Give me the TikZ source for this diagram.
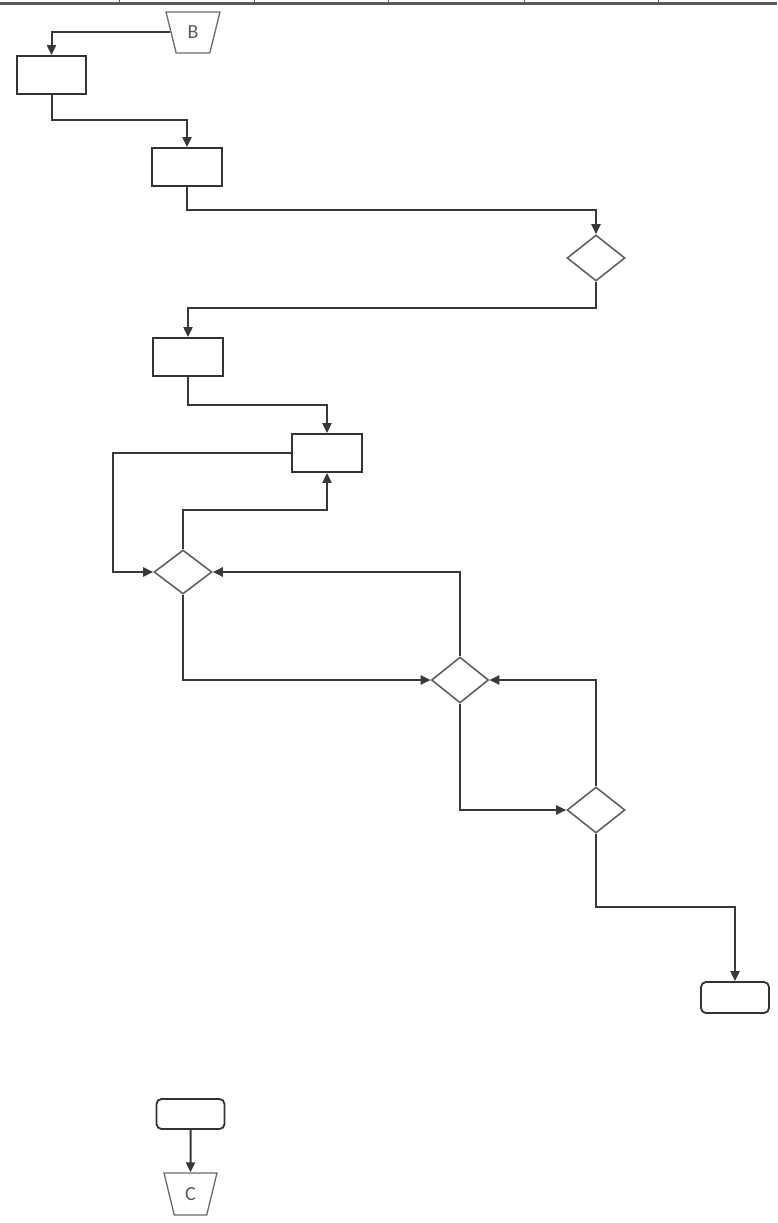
\documentclass[tikz,border=0pt]{standalone}
\usepackage{fontspec}
\setmainfont{Carlito}
\usetikzlibrary{shapes.geometric,arrows.meta,calc}
\begin{document}
\begin{tikzpicture}[x=1pt,y=-1pt,
  box/.style={draw=black!80,line width=1.8pt,minimum width=70pt,minimum height=38pt,inner sep=0pt},
  rbox/.style={box,rounded corners=5pt,minimum width=68pt,minimum height=31pt},
  dec/.style={diamond,draw=black!62,line width=1.6pt,minimum width=58pt,minimum height=46pt,inner sep=0pt},
  conn/.style={draw=black!58,line width=1.3pt,trapezium,trapezium stretches=true,
    trapezium left angle=75.6,trapezium right angle=75.6,shape border rotate=180,
    minimum width=54pt,minimum height=41pt,inner sep=0pt,font=\fontsize{20}{20}\selectfont,text=black!65},
  flow/.style={draw=black!78,line width=2pt},
  arr/.style={flow,-{Triangle[length=10pt,width=9pt]}}]
\useasboundingbox (0,0) rectangle (777,1223);
% scan border at top
\draw[black!65,line width=3pt] (0,4) -- (777,4);
\foreach \t in {119,254,388,524,658} \draw[black!65,line width=1pt] (\t,0) -- (\t,4);
% nodes
\node[conn] (B) at (193,32.5) {B};
\node[box,minimum width=69pt] (b1) at (51.5,75) {};
\node[box] (b2) at (187,167) {};
\node[dec] (d1) at (596,258) {};
\node[box] (b3) at (188,357) {};
\node[box] (b4) at (327,453) {};
\node[dec,minimum height=44pt] (d2) at (183,572) {};
\node[dec,minimum width=57pt] (d3) at (460,680) {};
\node[dec] (d4) at (596,810) {};
\node[rbox] (b5) at (735,997.5) {};
\node[rbox,minimum height=30pt] (b6) at (190.5,1114) {};
\node[conn,minimum width=53pt,minimum height=42pt] (C) at (190.5,1194) {C};
% connectors
\draw[arr] (B.180) -| (b1.north);
\draw[arr] (b1.south) -- (b1.south |- 0,120) -| (b2.north);
\draw[arr] (b2.south) -- (b2.south |- 0,210) -| (d1.north);
\draw[arr] (d1.south) -- (d1.south |- 0,308) -| (b3.north);
\draw[arr] (b3.south) -- (b3.south |- 0,405) -| (b4.north);
\draw[arr] (b4.west) -| (113,572) -- (d2.west);
\draw[arr] (d2.north) -- (d2.north |- 0,510) -| (b4.south);
\draw[arr] (d3.north) |- (d2.east);
\draw[arr] (d2.south) |- (d3.west);
\draw[arr] (d4.north) |- (d3.east);
\draw[arr] (d3.south) |- (d4.west);
\draw[arr] (d4.south) -- (d4.south |- 0,907) -| (b5.north);
\draw[arr] (b6.south) -- (C.north);
\end{tikzpicture}
\end{document}
